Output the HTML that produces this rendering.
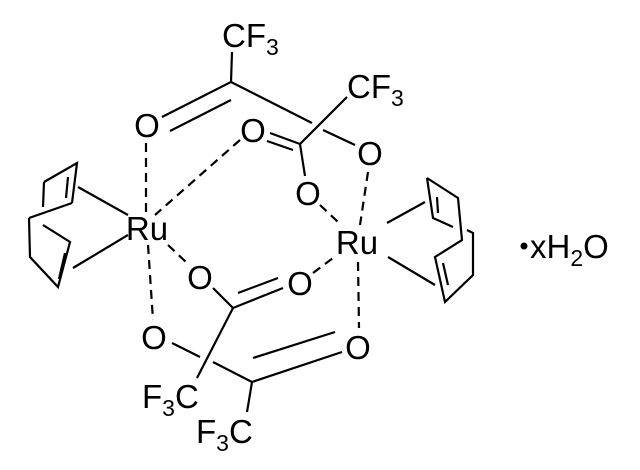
<!DOCTYPE html>
<html><head><style>
html,body{margin:0;padding:0;background:#fff;}
svg{display:block;}
text{font-family:"Liberation Sans",Arial,sans-serif;font-size:33px;fill:#000;}
</style></head><body>
<svg width="640" height="470" viewBox="0 0 640 470" xmlns="http://www.w3.org/2000/svg">
<g stroke="#000" stroke-width="2.2" fill="none" stroke-linecap="butt">
<path d="M44,182 L77,163 L72,203 M43,207 L44,182 M29,218 L72,203 M29,218 L30,257 L58,287 L70,242 L43,225"/>
<path d="M68,177 L66,198 M65,253 L59,279"/>
<path d="M78,187 L128,215 M73,268 L128,235"/>
<path d="M427,178 L458,198 L462,240 L435,257 L445,302 L473,275 L473,233 L467,230 M427,178 L433,218 L453,227"/>
<path d="M437,197 L438,213 M443,263 L448,285"/>
<path d="M387,223 L425,202 M388,257 L435,285"/>
<path d="M232,52 L231,82 L162,117 M231,100 L170,131 M231,82 L312,123 M323,130 L355,145"/>
<path d="M347,97 L300,144 L270,133 M293,150 L267,141 M300,144 L305,176"/>
<path d="M213,288 L233,308 L283,288 M238,293 L278,278 M233,308 L197,378"/>
<path d="M172,343 L200,357 M213,362 L252,382 L247,412 M252,382 L342,352 M253,358 L335,332"/>
</g>
<g stroke="#000" stroke-width="2.2" fill="none" stroke-dasharray="9,6">
<path d="M146,143 L146,212"/>
<path d="M240,140 L155,215"/>
<path d="M368,172 L360,225"/>
<path d="M320,205 L338,222"/>
<path d="M148,245 L153,320"/>
<path d="M168,245 L187,263"/>
<path d="M313,273 L333,258"/>
<path d="M358,262 L359,328"/>
</g>
<g text-anchor="middle">
<text x="147" y="137">O</text>
<text x="253" y="142">O</text>
<text x="370" y="165">O</text>
<text x="308" y="205">O</text>
<text x="200" y="289">O</text>
<text x="300" y="295">O</text>
<text x="154" y="349">O</text>
<text x="358" y="359">O</text>
<text x="147" y="240">Ru</text>
<text x="357" y="254">Ru</text>
</g>
<text x="222" y="47">CF<tspan font-size="23" dy="8">3</tspan></text>
<text x="347" y="98">CF<tspan font-size="23" dy="8">3</tspan></text>
<text x="142" y="408">F<tspan font-size="23" dy="8">3</tspan><tspan dy="-8">C</tspan></text>
<text x="196" y="443">F<tspan font-size="23" dy="8">3</tspan><tspan dy="-8">C</tspan></text>
<circle cx="524" cy="246" r="3.5" fill="#000"/>
<text x="530" y="258">xH<tspan font-size="23" dy="8">2</tspan><tspan dy="-8">O</tspan></text>
</svg>
</body></html>
